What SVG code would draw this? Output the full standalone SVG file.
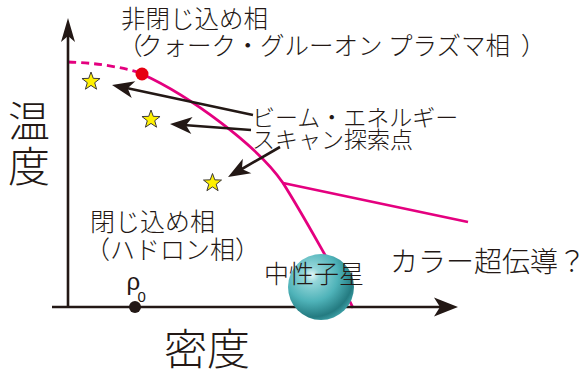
<svg xmlns="http://www.w3.org/2000/svg" width="587" height="376" viewBox="0 0 587 376">
  <style>
    .t { font-family: "Noto Sans CJK JP", "Noto Sans", sans-serif; font-weight: 300; fill: #231815; }
    .axis { stroke: #231815; stroke-width: 2.6; fill: none; }
    .ptr { stroke: #231815; stroke-width: 2.6; fill: none; marker-end: url(#ptrHead); }
    .pink { stroke: #e4007f; stroke-width: 2.8; fill: none; }
    .star { fill: #fff100; stroke: #3e3a39; stroke-width: 1; }
  </style>
  <defs>
    <marker id="ptrHead" markerUnits="userSpaceOnUse" markerWidth="30" markerHeight="24" viewBox="-2 -12 28 24" refX="12" refY="0" orient="auto">
      <path d="M22,0 L0,-8.5 L6,0 L0,8.5 Z" fill="#231815"/>
    </marker>
    <marker id="yHead" markerUnits="userSpaceOnUse" markerWidth="30" markerHeight="24" viewBox="-2 -12 28 24" refX="12" refY="0" orient="auto">
      <path d="M24,0 L0,-7 L6,0 L0,7 Z" fill="#231815"/>
    </marker>
    <marker id="xHead" markerUnits="userSpaceOnUse" markerWidth="30" markerHeight="24" viewBox="-2 -12 28 24" refX="12" refY="0" orient="auto">
      <path d="M24,0 L0,-9.5 L6,0 L0,9.5 Z" fill="#231815"/>
    </marker>
    <path id="starShape" d="M0,-9.5 L2.29,-3.16 9.03,-2.94 3.71,1.21 5.58,7.69 0,3.9 -5.58,7.69 -3.71,1.21 -9.03,-2.94 -2.29,-3.16 Z"/>
    <radialGradient id="sphereFill" cx="0.36" cy="0.32" r="0.72">
      <stop offset="0" stop-color="#e6f7f7"/>
      <stop offset="0.16" stop-color="#94d6d9"/>
      <stop offset="0.55" stop-color="#4fb3b9"/>
      <stop offset="0.88" stop-color="#247b81"/>
      <stop offset="1" stop-color="#3b9da3"/>
    </radialGradient>
  </defs>

  <!-- phase boundary and colour-superconductivity line -->
  <g id="phase-lines">
    <path class="pink" d="M68,62 Q105,63 138,72" stroke-dasharray="8,5"/>
    <path class="pink" d="M142,74 C190,96 258,146 283,183 C300,210 340,280 353,308"/>
    <path class="pink" stroke-width="2.2" d="M283,183 L468,222"/>
  </g>

  <!-- axes -->
  <g id="axes">
    <path class="axis" d="M68,307 L68,30" marker-end="url(#yHead)"/>
    <path class="axis" d="M52,307 L446,307" marker-end="url(#xHead)"/>
  </g>

  <g id="critical-point">
    <circle cx="142" cy="74" r="6.5" fill="#e60012"/>
  </g>

  <g id="rho0">
    <circle cx="135" cy="307" r="6" fill="#231815"/>
    <text x="126.5" y="290" font-family="Liberation Sans, sans-serif" font-size="24" fill="#231815">ρ</text>
    <text x="137.5" y="302" font-family="Liberation Sans, sans-serif" font-size="15" fill="#231815">0</text>
  </g>

  <!-- scan points -->
  <g id="scan-points">
    <use href="#starShape" class="star" x="91" y="81.5"/>
    <use href="#starShape" class="star" x="151" y="119.5"/>
    <use href="#starShape" class="star" x="212.5" y="183"/>
  </g>

  <g id="connectors">
    <path class="ptr" d="M253,115 L121.8,87.1"/>
    <path class="ptr" d="M251,130 L180,124.7"/>
    <path class="ptr" d="M280,147 L236.7,172"/>
  </g>

  <g id="neutron-star">
    <circle cx="321" cy="287" r="33" fill="url(#sphereFill)"/>
    <text class="t" x="264" y="283" font-size="25">中性子星</text>
  </g>

  <g id="label-qgp">
    <text class="t" x="121" y="28" font-size="24.5">非閉じ込め相</text>
    <text class="t" y="55" font-size="24.5"><tspan x="118">（</tspan><tspan x="138">クォーク・グルーオン プラズマ相</tspan><tspan x="521">）</tspan></text>
  </g>

  <g id="label-scan">
    <text class="t" x="252" y="126" font-size="23">ビーム・エネルギー</text>
    <text class="t" x="252" y="148" font-size="23">スキャン探索点</text>
  </g>

  <g id="label-hadron">
    <text class="t" x="90" y="231" font-size="25">閉じ込め相</text>
    <text class="t" x="85" y="259" font-size="25">（ハドロン相）</text>
  </g>

  <g id="label-csc">
    <text class="t" x="390" y="272" font-size="28">カラー超伝導？</text>
  </g>

  <g id="axis-labels">
    <text class="t" x="8" y="137" font-size="42">温</text>
    <text class="t" x="8" y="182" font-size="42">度</text>
    <text class="t" x="164" y="365" font-size="43">密度</text>
  </g>
</svg>
